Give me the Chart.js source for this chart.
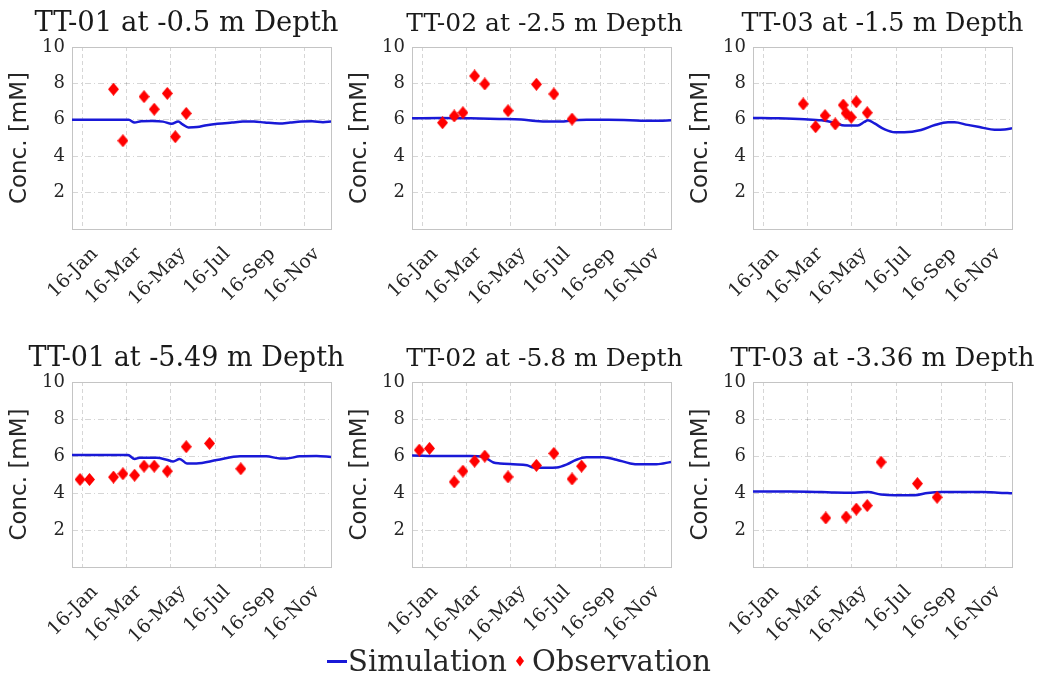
<!DOCTYPE html>
<html>
<head>
<meta charset="utf-8">
<title>Concentration: simulation vs observation</title>
<script src="https://cdn.jsdelivr.net/npm/chart.js@4.4.1/dist/chart.umd.min.js"></script>
<style>
  html, body { margin: 0; padding: 0; background: #fff; overflow: hidden; }
  #figure { position: relative; width: 1038px; height: 692px; overflow: hidden; }
  #figure canvas { position: absolute; }
  #legend {
    position: absolute; left: 0; top: 645px; width: 1038px; height: 32px;
    display: flex; justify-content: center; align-items: center;
    font-family: 'DejaVu Serif', serif; font-size: 29px; color: #262626; line-height: 1;
  }
  #legend .line { display: inline-block; width: 20px; height: 3px; background: rgb(25,25,215); margin-right: 1px; }
  #legend .diamond {
    display: inline-block; width: 8px; height: 11px; background: #f00; margin: 0 8px 0 9px;
    clip-path: polygon(50% 0, 100% 50%, 50% 100%, 0 50%);
  }
</style>
</head>
<body>
<div id="figure">
  <canvas id="p1"></canvas>
  <canvas id="p2"></canvas>
  <canvas id="p3"></canvas>
  <canvas id="p4"></canvas>
  <canvas id="p5"></canvas>
  <canvas id="p6"></canvas>
  <div id="legend"><span class="line"></span><span>Simulation</span><span class="diamond"></span><span>Observation</span></div>
</div>
<script>
// x values are days since 1 Jan 2016
const tickDays = [15, 75, 136, 197, 259, 320];
const tickLabels = ['16-Jan', '16-Mar', '16-May', '16-Jul', '16-Sep', '16-Nov'];
const yTicks = [0, 2, 4, 6, 8, 10];

const titles = [
  'TT-01 at -0.5 m Depth', 'TT-02 at -2.5 m Depth', 'TT-03 at -1.5 m Depth',
  'TT-01 at -5.49 m Depth', 'TT-02 at -5.8 m Depth', 'TT-03 at -3.36 m Depth'
];

// TT-01 at -0.5 m
const sim1Days = [0, 30, 60, 78, 86, 95, 110, 125, 137, 146, 152, 160, 172, 185, 200, 220, 235, 250, 265, 285, 300, 315, 330, 345, 356];
const sim1Conc = [6.0, 6.0, 6.0, 6.0, 5.85, 5.92, 5.93, 5.9, 5.78, 5.9, 5.75, 5.58, 5.6, 5.7, 5.78, 5.85, 5.9, 5.9, 5.85, 5.8, 5.85, 5.9, 5.92, 5.87, 5.9];
const obs1Days = [57, 70, 99, 113, 131, 142, 157];
const obs1Conc = [7.68, 4.85, 7.27, 6.58, 7.45, 5.07, 6.35];

// TT-02 at -2.5 m
const sim2Days = [0, 40, 80, 120, 150, 170, 190, 205, 220, 240, 270, 300, 320, 340, 356];
const sim2Conc = [6.08, 6.1, 6.08, 6.05, 6.02, 5.93, 5.9, 5.9, 5.97, 6.0, 6.0, 5.98, 5.95, 5.95, 5.98];
const obs2Days = [42, 58, 70, 86, 100, 132, 171, 195, 220];
const obs2Conc = [5.84, 6.21, 6.39, 8.41, 7.97, 6.5, 7.95, 7.42, 6.04];

// TT-03 at -1.5 m
const sim3Days = [0, 35, 71, 94, 112, 126, 144, 153, 158, 167, 181, 195, 208, 231, 250, 268, 277, 295, 314, 332, 346, 356];
const sim3Conc = [6.1, 6.08, 6.03, 5.97, 5.84, 5.68, 5.68, 5.88, 5.97, 5.8, 5.47, 5.31, 5.31, 5.44, 5.71, 5.86, 5.86, 5.72, 5.58, 5.45, 5.47, 5.53];
const obs3Days = [69, 86, 99, 113, 124, 128, 135, 142, 157];
const obs3Conc = [6.87, 5.62, 6.23, 5.77, 6.81, 6.36, 6.14, 6.99, 6.39];

// TT-01 at -5.49 m
const sim4Days = [0, 40, 77, 86, 93, 116, 130, 139, 148, 158, 171, 199, 231, 267, 286, 295, 313, 336, 356];
const sim4Conc = [6.05, 6.05, 6.05, 5.84, 5.9, 5.9, 5.8, 5.7, 5.84, 5.6, 5.6, 5.78, 5.98, 5.98, 5.87, 5.87, 5.98, 6.0, 5.95];
const obs4Days = [11, 24, 57, 70, 86, 99, 113, 131, 157, 189, 232];
const obs4Conc = [4.73, 4.73, 4.86, 5.04, 4.96, 5.45, 5.45, 5.18, 6.5, 6.68, 5.31];

// TT-02 at -5.8 m
const sim5Days = [0, 40, 80, 98, 112, 121, 139, 158, 167, 185, 199, 213, 226, 240, 263, 281, 300, 313, 336, 356];
const sim5Conc = [6.03, 6.0, 6.0, 5.95, 5.65, 5.6, 5.55, 5.5, 5.38, 5.36, 5.38, 5.55, 5.8, 5.93, 5.93, 5.8, 5.6, 5.55, 5.55, 5.68];
const obs5Days = [10, 24, 58, 70, 86, 100, 132, 171, 195, 220, 233];
const obs5Conc = [6.32, 6.41, 4.6, 5.18, 5.72, 5.99, 4.87, 5.49, 6.14, 4.76, 5.45];

// TT-03 at -3.36 m
const sim6Days = [0, 50, 94, 112, 140, 158, 176, 195, 222, 240, 259, 314, 337, 356];
const sim6Conc = [4.08, 4.08, 4.05, 4.03, 4.02, 4.05, 3.92, 3.88, 3.88, 4.0, 4.05, 4.05, 4.02, 3.98];
const obs6Days = [100, 128, 142, 157, 176, 226, 253];
const obs6Conc = [2.65, 2.7, 3.13, 3.32, 5.67, 4.51, 3.77];

const simDays = [sim1Days, sim2Days, sim3Days, sim4Days, sim5Days, sim6Days];
const simConc = [sim1Conc, sim2Conc, sim3Conc, sim4Conc, sim5Conc, sim6Conc];
const obsDays = [obs1Days, obs2Days, obs3Days, obs4Days, obs5Days, obs6Days];
const obsConc = [obs1Conc, obs2Conc, obs3Conc, obs4Conc, obs5Conc, obs6Conc];

const blue = 'rgb(25,25,215)';
const red = '#ff0000';
const gridColor = 'rgba(0,0,0,0.16)';
const frameColor = '#c4c4c4';
const textColor = '#262626';

// panel placement (plot area edges in page pixels)
const plotLefts = [72, 412, 753];
const plotWidth = 259;
const rowTops = [0, 335];
const plotHeights = [182, 185];
const yAxisWidth = 72;
const xAxisHeight = 95;
const topSpace = 47;
const rightPad = 45;
const titleSizes = [27.5, 25, 25.5, 27, 25, 26];
const titleShift = [-15, 3, 0];

function diamond(w, h, color) {
  const c = document.createElement('canvas');
  c.width = w; c.height = h;
  const g = c.getContext('2d');
  g.fillStyle = color;
  g.beginPath();
  g.moveTo(w / 2, 0); g.lineTo(w, h / 2); g.lineTo(w / 2, h); g.lineTo(0, h / 2);
  g.closePath();
  g.fill();
  return c;
}
const diamondImg = diamond(11, 13, red);

// light box around the plot area
const framePlugin = {
  id: 'frame',
  beforeDatasetsDraw(chart) {
    const a = chart.chartArea;
    const ctx = chart.ctx;
    ctx.save();
    ctx.strokeStyle = frameColor;
    ctx.lineWidth = 1;
    ctx.strokeRect(Math.round(a.left) + 0.5, Math.round(a.top) + 0.5, Math.round(a.right - a.left), Math.round(a.bottom - a.top));
    ctx.restore();
  }
};

// widen the title box so long titles are not squeezed, keep it over the plot
const titleBoxPlugin = {
  id: 'titleBox',
  afterLayout(chart, args, opts) {
    const t = chart.titleBlock;
    if (!t) return;
    const a = chart.chartArea;
    const c = (a.left + a.right) / 2 + (opts.shift || 0);
    t.left = c - 250;
    t.right = c + 250;
  }
};

function pts(xs, ys) {
  return xs.map((x, i) => ({ x: x, y: ys[i] }));
}

for (let i = 0; i < 6; i++) {
  const row = Math.floor(i / 3), col = i % 3;
  const canvas = document.getElementById('p' + (i + 1));
  const w = yAxisWidth + plotWidth + rightPad;
  const h = topSpace + plotHeights[row] + xAxisHeight;
  canvas.width = w; canvas.height = h;
  canvas.style.left = (plotLefts[col] - yAxisWidth) + 'px';
  canvas.style.top = rowTops[row] + 'px';
  canvas.style.width = w + 'px';
  canvas.style.height = h + 'px';

  new Chart(canvas.getContext('2d'), {
    type: 'line',
    data: {
      datasets: [{
        label: 'Simulation',
        data: pts(simDays[i], simConc[i]),
        borderColor: blue,
        borderWidth: 2.5,
        pointRadius: 0,
        cubicInterpolationMode: 'monotone',
        fill: false,
        order: 2
      }, {
        label: 'Observation',
        data: pts(obsDays[i], obsConc[i]),
        showLine: false,
        pointStyle: diamondImg,
        pointRadius: 6,
        backgroundColor: red,
        borderColor: red,
        order: 1
      }]
    },
    options: {
      responsive: false,
      animation: false,
      events: [],
      layout: { padding: { top: 9, right: rightPad, bottom: 0, left: 0 } },
      plugins: {
        legend: { display: false },
        tooltip: { enabled: false },
        titleBox: { shift: titleShift[col] },
        title: {
          display: true,
          text: titles[i],
          fullSize: false,
          color: '#1a1a1a',
          font: { family: "'DejaVu Serif', serif", size: titleSizes[i], weight: 'normal', lineHeight: '30px' },
          padding: { top: 0, bottom: 8 }
        }
      },
      scales: {
        x: {
          type: 'linear',
          min: 0,
          max: 356,
          afterBuildTicks: (scale) => { scale.ticks = tickDays.map(v => ({ value: v })); },
          afterFit: (scale) => { scale.height = xAxisHeight; },
          grid: { color: gridColor, drawTicks: false },
          border: { display: false, dash: [4, 3] },
          ticks: {
            autoSkip: false,
            minRotation: 45,
            maxRotation: 45,
            padding: 14,
            labelOffset: 12,
            color: textColor,
            font: { family: "'DejaVu Serif', serif", size: 19 },
            callback: (v) => tickLabels[tickDays.indexOf(v)]
          }
        },
        y: {
          min: 0,
          max: 10,
          afterBuildTicks: (scale) => { scale.ticks = yTicks.map(v => ({ value: v })); },
          afterFit: (scale) => { scale.width = yAxisWidth; },
          grid: { color: gridColor, drawTicks: false },
          border: { display: false, dash: [6, 3, 1, 3] },
          ticks: {
            padding: 7,
            color: textColor,
            font: { family: "'DejaVu Serif', serif", size: 18 },
            callback: (v) => (v === 0 ? '' : v)
          },
          title: {
            display: true,
            text: 'Conc. [mM]',
            color: textColor,
            font: { family: "'DejaVu Sans', sans-serif", size: 23 },
            padding: { top: 6, bottom: 0 }
          }
        }
      }
    },
    plugins: [framePlugin, titleBoxPlugin]
  });
}
</script>
</body>
</html>
